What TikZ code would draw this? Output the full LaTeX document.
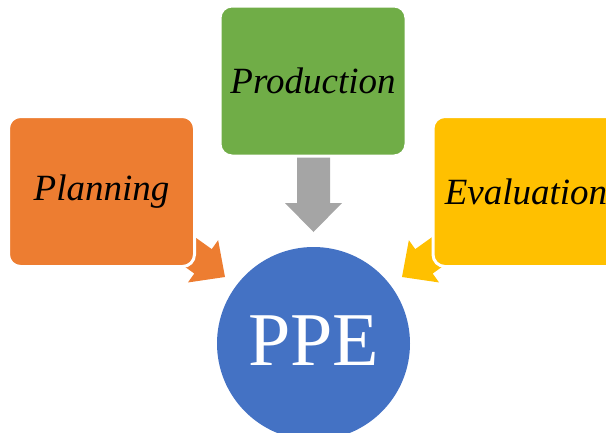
\documentclass[tikz,border=0pt]{standalone}
\usepackage{fontspec}
\setmainfont{Liberation Serif}
\usetikzlibrary{calc}
\definecolor{planorange}{HTML}{ED7D31}
\definecolor{prodgreen}{HTML}{70AD47}
\definecolor{evalyellow}{HTML}{FFC000}
\definecolor{ppeblue}{HTML}{4472C4}
\definecolor{arrowgrey}{HTML}{A5A5A5}
% block arrow: colour, tail, tip, half shaft, half head, head length
\newcommand{\fatarrow}[6]{%
  \coordinate (neck) at ($(#3)!#6!(#2)$);
  \fill[#1] ($(#2)!#4!90:(#3)$) -- ($(neck)!#4!90:(#3)$) -- ($(neck)!#5!90:(#3)$)
    -- (#3) -- ($(neck)!#5!-90:(#3)$) -- ($(neck)!#4!-90:(#3)$)
    -- ($(#2)!#4!-90:(#3)$) -- cycle;}

\begin{document}
\begin{tikzpicture}[x=1pt, y=-1pt,
  stepbox/.style={rectangle, rounded corners=12pt, draw=white, line width=3pt,
    minimum width=186pt, minimum height=150pt, inner sep=0pt,
    font=\fontsize{37}{40}\selectfont\itshape}]
\useasboundingbox (0,0) rectangle (606,432);
% Draw the centre circle
\node[circle, fill=ppeblue, minimum size=193pt, inner sep=0pt, text=white,
  font=\fontsize{76}{80}\selectfont] (ppe) at (313.5,343.5) {\raisebox{5pt}{PPE}};
% Arrow ends
\coordinate (plantail) at (176,242);
\coordinate (plantip) at ($(ppe.center)+(-88.5,-66.5)$);
\coordinate (evaltail) at (451,242);
\coordinate (evaltip) at ($(ppe.center)+(88.5,-66.5)$);
\coordinate (prodtail) at (313.5,157);
\coordinate (prodtip) at ($(ppe.center)+(0,-111.5)$);
% Draw arrows
\fatarrow{planorange}{plantail}{plantip}{15pt}{26pt}{27pt}
\fatarrow{evalyellow}{evaltail}{evaltip}{15pt}{26pt}{27pt}
\fatarrow{arrowgrey}{prodtail}{prodtip}{16.5pt}{28.5pt}{29pt}
% Draw boxes
\node[stepbox, fill=planorange] (plan) at (101.5,191.5) {Planning};
\node[stepbox, fill=prodgreen] (prod) at (313,81) {Production};
\node[stepbox, fill=evalyellow] (eval) at (526,191.5) {Evaluation};
\end{tikzpicture}
\end{document}
